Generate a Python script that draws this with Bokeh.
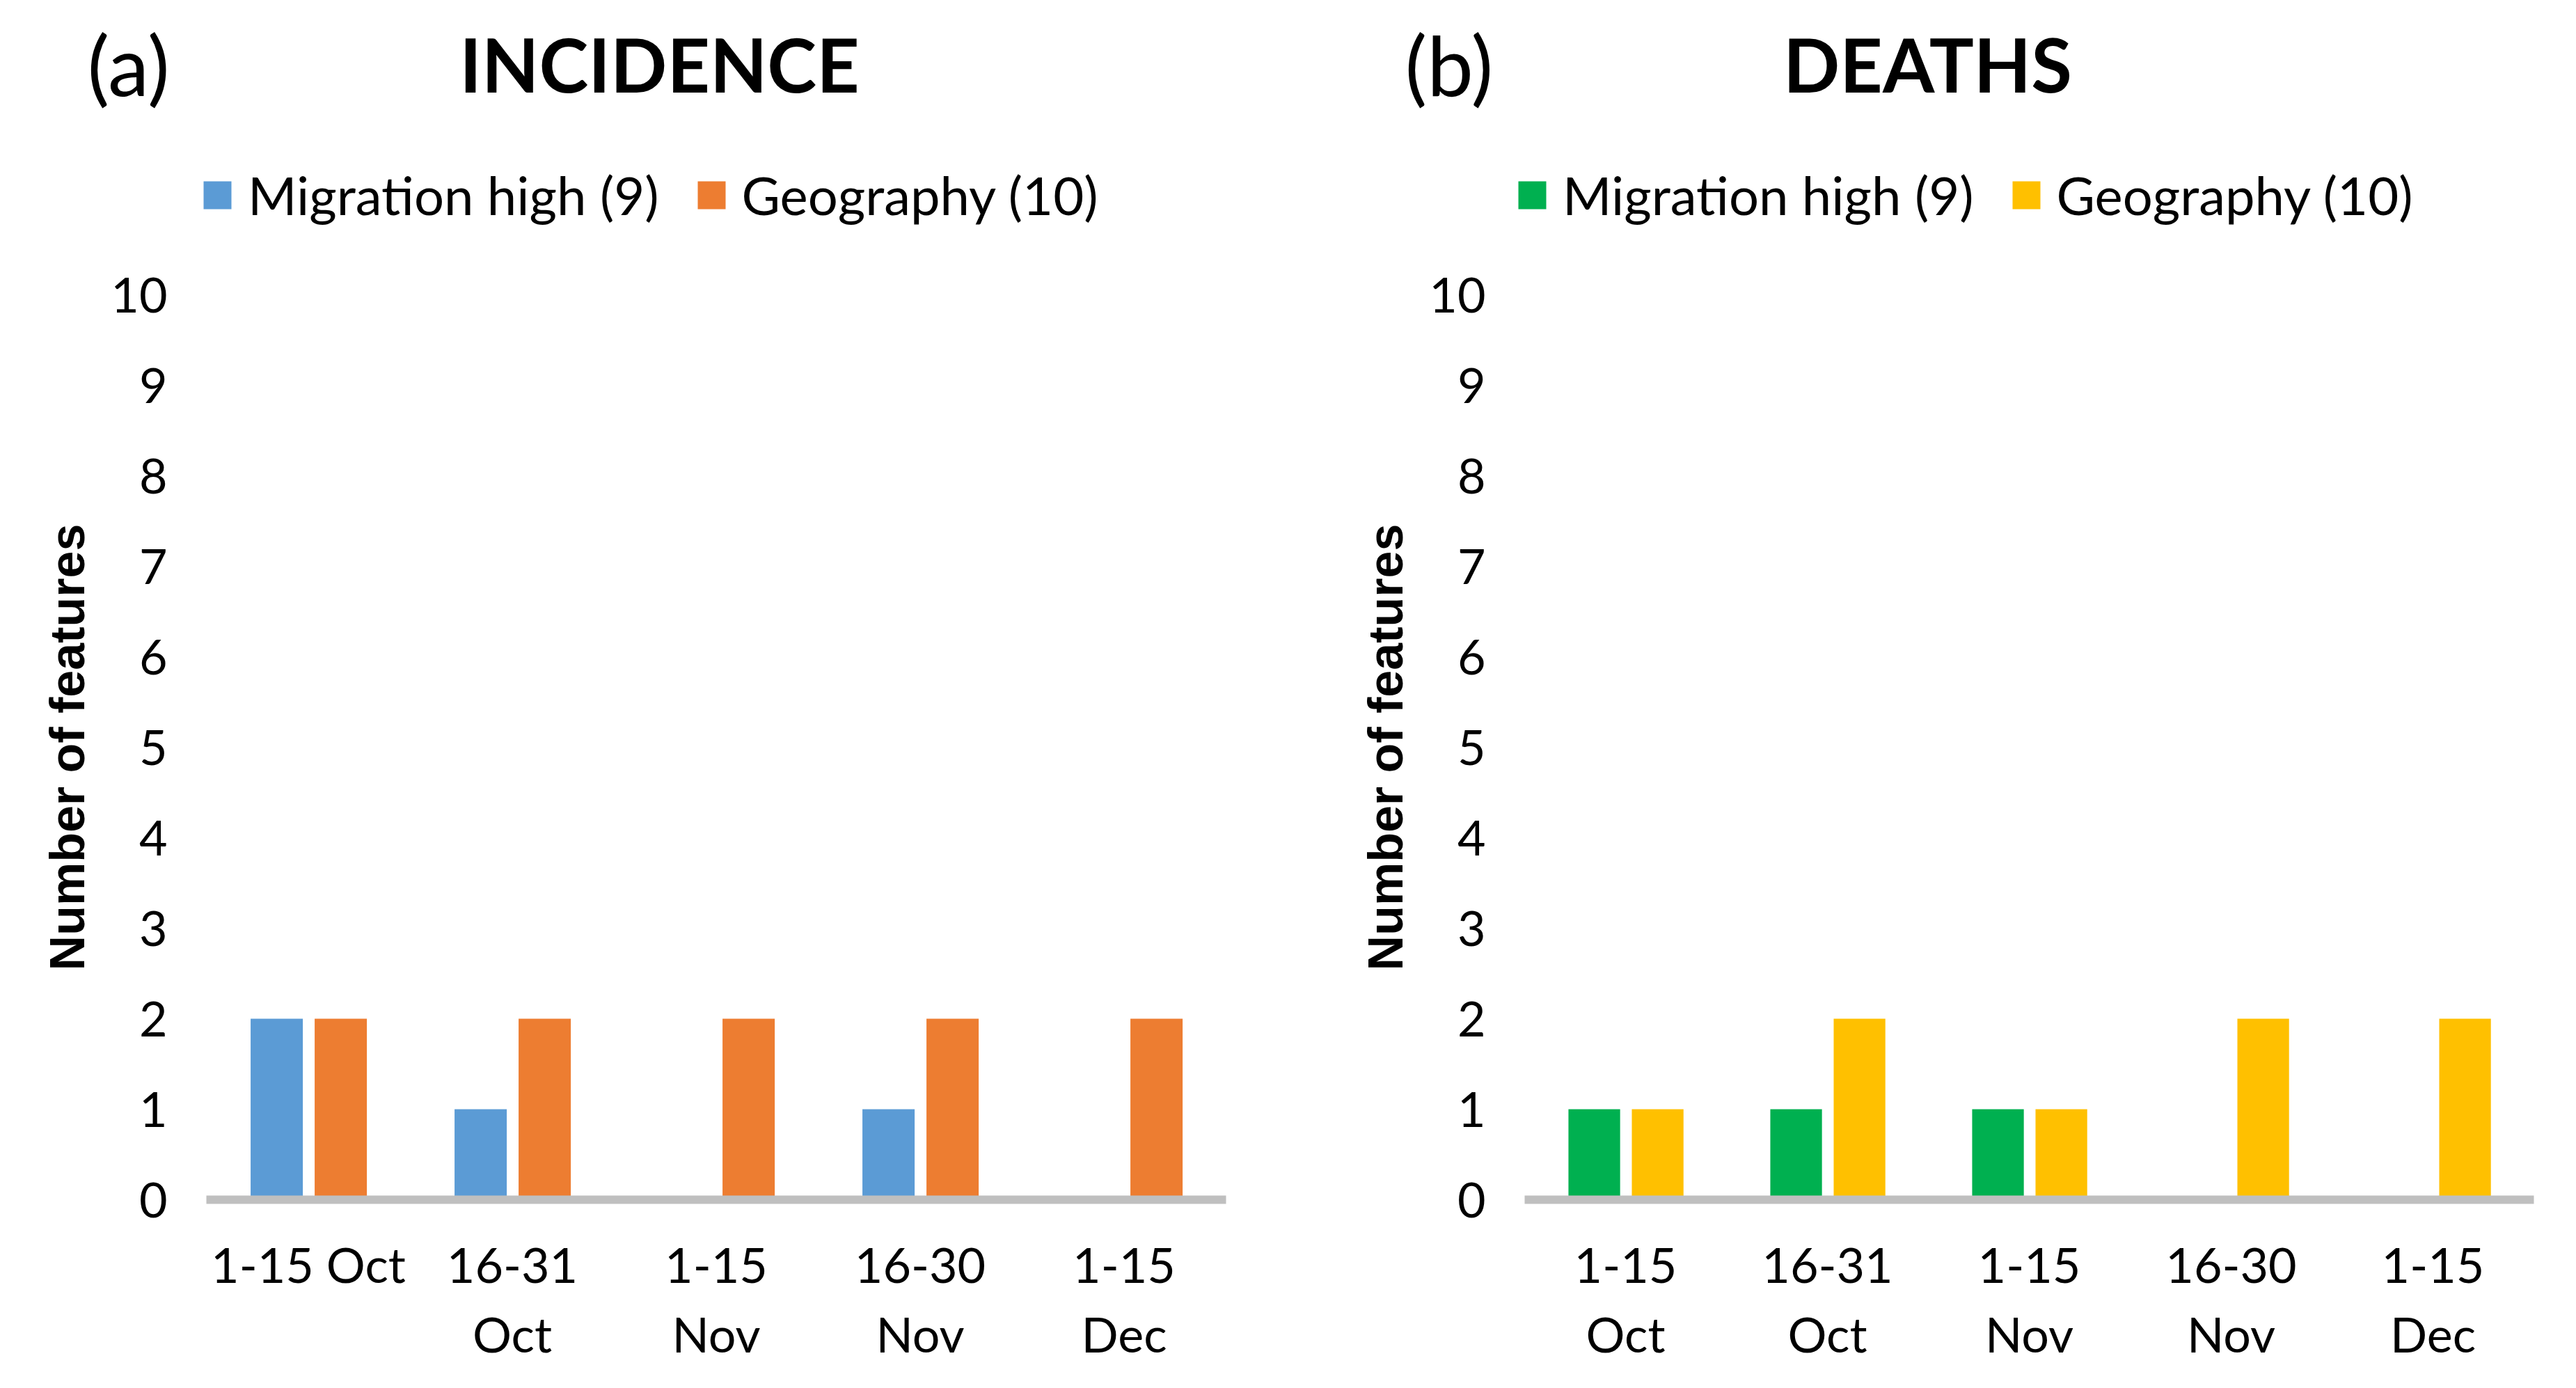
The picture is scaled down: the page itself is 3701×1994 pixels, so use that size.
from bokeh.plotting import figure
from bokeh.models import (FactorRange, Range1d, Legend, LegendItem,
                          ColumnDataSource, FixedTicker)
from bokeh.core.properties import value
from bokeh.transform import dodge
from bokeh.layouts import row, column
from bokeh.embed import file_html
from bokeh.resources import INLINE

# ---- data ----
categories_incidence = ["1-15 Oct", "16-31\nOct", "1-15\nNov", "16-30\nNov", "1-15\nDec"]
categories_deaths = ["1-15\nOct", "16-31\nOct", "1-15\nNov", "16-30\nNov", "1-15\nDec"]
incidence_migration = [2, 1, 0, 1, 0]
incidence_geography = [2, 2, 2, 2, 2]
deaths_migration = [1, 1, 1, 0, 0]
deaths_geography = [1, 2, 1, 2, 2]
y_ticks = [0, 1, 2, 3, 4, 5, 6, 7, 8, 9, 10]
legend_labels = ["Migration high (9)", "Geography (10)"]
panel_titles = ["INCIDENCE", "DEATHS"]
panel_tags = ["(a)", "(b)"]

FONT = "Lato"
HEAD_H = 363
CHART_H = 1615


def make_header(width, tag, title, colors, tag_x, title_x, legend_x):
    h = figure(x_range=Range1d(0, width), y_range=Range1d(0, HEAD_H),
               width=width, height=HEAD_H,
               min_border=0, min_border_left=0, min_border_right=0,
               min_border_top=0, min_border_bottom=0,
               x_axis_type=None, y_axis_type=None,
               output_backend="svg", toolbar_location=None,
               background_fill_color="white", border_fill_color="white")
    h.outline_line_color = None
    h.xgrid.visible = False
    h.ygrid.visible = False
    h.text(x=[tag_x], y=[272], text=[tag], text_font=value(FONT),
           text_font_size="119px", text_color="black",
           text_align="left", text_baseline="alphabetic")
    h.text(x=[title_x], y=[272], text=[title], text_font=value(FONT),
           text_font_style="bold", text_font_size="107px", text_color="black",
           text_align="center", text_baseline="alphabetic")
    # legend swatches (kept outside the visible area of the header)
    sw = ColumnDataSource(dict(x=[-100], top=[-100]))
    g1 = h.vbar(x="x", top="top", width=1, source=sw,
                fill_color=colors[0], line_color=None)
    g2 = h.vbar(x="x", top="top", width=1, source=sw,
                fill_color=colors[1], line_color=None)
    legend = Legend(items=[LegendItem(label=legend_labels[0], renderers=[g1]),
                           LegendItem(label=legend_labels[1], renderers=[g2])],
                    orientation="horizontal", location=(legend_x, 38),
                    glyph_width=50, glyph_height=50,
                    label_text_font=FONT, label_text_font_size="76px",
                    label_text_color="black", label_standoff=19, spacing=50,
                    padding=0, margin=0, border_line_color=None,
                    background_fill_alpha=0)
    h.add_layout(legend)
    return h


def make_chart(cats, mig, geo, colors, width, mbl, mbr):
    src = ColumnDataSource(dict(cat=cats, mig=mig, geo=geo))
    p = figure(x_range=FactorRange(*cats, range_padding=0),
               y_range=Range1d(0, 10),
               width=width, height=CHART_H,
               min_border_left=mbl, min_border_right=mbr,
               min_border_top=60, min_border_bottom=255,
               output_backend="svg", toolbar_location=None,
               background_fill_color="white", border_fill_color="white")
    p.outline_line_color = None
    p.xgrid.visible = False
    p.ygrid.visible = False

    p.vbar(x=dodge("cat", -0.155, range=p.x_range), top="mig", width=0.256,
           source=src, fill_color=colors[0], line_color=None)
    p.vbar(x=dodge("cat", 0.159, range=p.x_range), top="geo", width=0.256,
           source=src, fill_color=colors[1], line_color=None)

    ya = p.yaxis[0]
    ya.ticker = FixedTicker(ticks=y_ticks)
    ya.axis_line_color = None
    ya.major_tick_line_color = None
    ya.minor_tick_line_color = None
    ya.major_tick_out = 0
    ya.major_label_standoff = 56
    ya.major_label_text_font = FONT
    ya.major_label_text_font_size = "70px"
    ya.major_label_text_color = "black"
    ya.axis_label = "Number of features"
    ya.axis_label_text_font = "Liberation Sans"
    ya.axis_label_text_font_style = "bold"
    ya.axis_label_text_font_size = "70px"
    ya.axis_label_text_color = "black"
    ya.axis_label_standoff = 20

    xa = p.xaxis[0]
    xa.axis_line_color = "#BFBFBF"
    xa.axis_line_width = 12
    xa.major_tick_line_color = None
    xa.minor_tick_line_color = None
    xa.major_tick_out = 0
    xa.major_label_standoff = 50
    xa.major_label_text_font = FONT
    xa.major_label_text_font_size = "70px"
    xa.major_label_text_color = "black"
    xa.major_label_orientation = "horizontal"
    return p


h1 = make_header(1892, panel_tags[0], panel_titles[0], ["#5B9BD5", "#ED7D31"],
                 125, 947, 287)
h2 = make_header(1793, panel_tags[1], panel_titles[1], ["#00B050", "#FFC000"],
                 126, 877, 284)
p1 = make_chart(categories_incidence, incidence_migration, incidence_geography,
                ["#5B9BD5", "#ED7D31"], 1892, 296, 131)
p2 = make_chart(categories_deaths, deaths_migration, deaths_geography,
                ["#00B050", "#FFC000"], 1793, 298, 45)

layout = column(row(h1, h2), row(p1, p2))
open("out.html", "w").write(file_html(layout, INLINE))
